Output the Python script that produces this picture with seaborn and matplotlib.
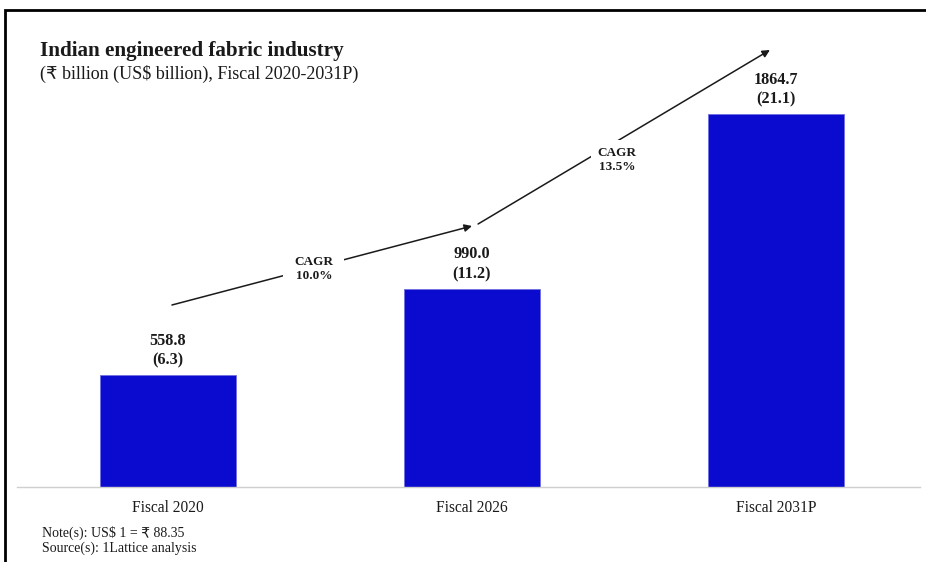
import matplotlib
matplotlib.use("Agg")
import matplotlib.pyplot as plt
import seaborn as sns
import pandas as pd
from matplotlib.patches import Rectangle

categories = ["Fiscal 2020", "Fiscal 2026", "Fiscal 2031P"]
inr_values = [558.8, 990.0, 1864.7]
usd_values = [6.3, 11.2, 21.1]
cagr_labels = ["CAGR\n10.0%", "CAGR\n13.5%"]

df = pd.DataFrame({"cat": categories, "val": inr_values})

sns.set_theme(style="white")
plt.rcParams["font.family"] = ["Liberation Serif", "DejaVu Sans"]

W, H = 926, 562
fig = plt.figure(figsize=(W / 100, H / 100), dpi=100)
ax = fig.add_axes([17 / W, (H - 487) / H, (920 - 17) / W, (487 - 20) / H])

sns.barplot(data=df, x="cat", y="val", color="#0b0bd0", saturation=1,
            width=0.45, ax=ax, edgecolor="#6f6fe0", linewidth=0.6)

ax.set_xlim(-0.4967, 2.4737)
ax.set_ylim(0, 2335)
ax.set_xlabel("")
ax.set_ylabel("")
ax.set_yticks([])
for s in ["left", "right", "top"]:
    ax.spines[s].set_visible(False)
ax.spines["bottom"].set_color("#cfcfcf")
ax.spines["bottom"].set_linewidth(1.0)
ax.tick_params(axis="x", length=0, pad=9, labelsize=11.2, labelcolor="#1a1a1a")

for i, (v, u) in enumerate(zip(inr_values, usd_values)):
    ax.annotate(f"{v:.1f}\n({u:.1f})", xy=(i, v), xytext=(0, 5),
                textcoords="offset points", ha="center", va="bottom",
                fontsize=11.7, fontweight="bold", color="#1a1a1a",
                linespacing=1.3)

# CAGR arrows
arrows = [((0.013, 910), (1.0, 1305)), ((1.02, 1315), (1.98, 2185))]
label_pos = [(0.480, 1090), (1.477, 1635)]
pads = [8, 5]
for (start, end), lbl, pos, pd_ in zip(arrows, cagr_labels, label_pos, pads):
    ax.annotate("", xy=end, xytext=start,
                arrowprops=dict(arrowstyle="-|>", color="#1a1a1a", lw=1.1,
                                mutation_scale=11, shrinkA=0, shrinkB=0))
    ax.text(pos[0], pos[1], lbl, ha="center", va="center", fontsize=9.5,
            fontweight="bold", color="#1a1a1a", linespacing=1.15,
            bbox=dict(facecolor="white", edgecolor="none", pad=pd_))

fig.text(40 / W, 1 - 51 / H, "Indian engineered fabric industry", ha="left",
         va="center", fontsize=15.2, fontweight="bold", color="#1a1a1a")
fig.text(40 / W, 1 - 74 / H, "(₹ billion (US$ billion), Fiscal 2020-2031P)",
         ha="left", va="center", fontsize=13.0, color="#1a1a1a")
fig.text(42 / W, 1 - 533 / H, "Note(s): US$ 1 = ₹ 88.35", ha="left",
         va="center", fontsize=10.0, color="#1a1a1a")
fig.text(42 / W, 1 - 548 / H, "Source(s): 1Lattice analysis", ha="left",
         va="center", fontsize=10.0, color="#1a1a1a")

fig.patches.append(Rectangle((4.5 / W, -0.05), 1.2, 1.05 - 9.5 / H,
                             transform=fig.transFigure, fill=False,
                             edgecolor="black", linewidth=2))

fig.savefig("out.png", dpi=100)
